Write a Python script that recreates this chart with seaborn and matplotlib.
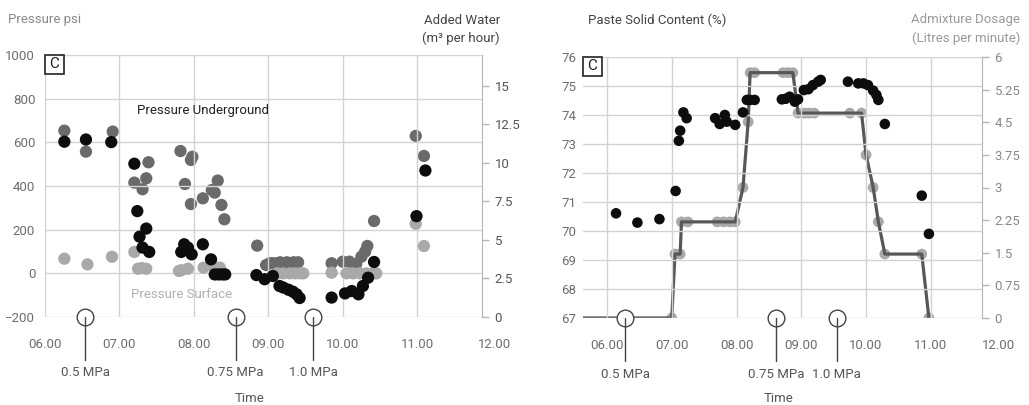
import numpy as np
import pandas as pd
import matplotlib
matplotlib.use('Agg')
import matplotlib.pyplot as plt
import matplotlib.transforms as mtrans
from matplotlib.patches import Rectangle
import seaborn as sns

# ---- left chart: pressure and added water ----
under_time = [6.26, 6.55, 6.89, 7.20, 7.24, 7.36, 7.27, 7.31, 7.40, 7.83, 7.87, 7.92, 7.97, 8.12,
              8.23, 8.28, 8.33, 8.38, 8.42, 8.84, 8.95, 9.06, 9.15, 9.20, 9.27, 9.33, 9.38, 9.42,
              9.85, 10.03, 10.12, 10.21, 10.27, 10.34, 10.42, 10.99, 11.11]
under_psi = [603, 613, 601, 502, 285, 205, 168, 118, 98, 98, 133, 118, 87, 133,
             64, -5, -5, -5, -5, -8, -27, -12, -58, -65, -75, -84, -96, -113,
             -111, -92, -81, -96, -58, -20, 52, 262, 471]

water_time = [6.26, 6.55, 6.91, 7.20, 7.31, 7.36, 7.39, 7.82, 7.88, 7.96, 7.96, 7.98, 8.12, 8.24,
              8.28, 8.32, 8.37, 8.41, 8.85, 8.97, 9.02, 9.06, 9.11, 9.16, 9.20, 9.25, 9.29, 9.34,
              9.40, 9.85, 10.00, 10.09, 10.18, 10.25, 10.30, 10.33, 10.42, 10.98, 11.09]
water_m3 = [12.09, 10.73, 12.03, 8.72, 8.29, 9.00, 10.04, 10.77, 8.63, 10.19, 7.33, 10.40, 7.70, 8.24,
            8.07, 8.85, 7.27, 6.34, 4.63, 3.37, 3.49, 3.49, 3.49, 3.55, 3.49, 3.55, 3.49, 3.55,
            3.55, 3.49, 3.59, 3.59, 3.44, 3.91, 4.24, 4.61, 6.23, 11.75, 10.45]

surf_time = [6.26, 6.57, 6.90, 7.20, 7.25, 7.30, 7.36, 7.80, 7.83, 7.92, 8.13, 8.26, 8.35,
             9.12, 9.20, 9.29, 9.36, 9.42, 9.47, 9.85, 10.05, 10.14, 10.23, 10.32, 10.41, 10.45,
             10.98, 11.09]
surf_psi = [67, 41, 76, 98, 21, 24, 21, 11, 14, 21, 26, 33, 26,
            0, 0, 0, 0, 0, 0, 3, 0, 0, 0, 0, 0, 0,
            227, 125]

left_mpa_time = [6.54, 8.56, 9.60]
left_mpa_text = ['0.5 MPa', '0.75 MPa', '1.0 MPa']

# ---- right chart: paste solid content and admixture ----
solid_time = [6.14, 6.47, 6.81, 7.06, 7.11, 7.13, 7.18, 7.23, 7.67, 7.74, 7.82, 7.85, 7.98, 8.10,
              8.16, 8.21, 8.28, 8.70, 8.76, 8.82, 8.90, 8.95, 9.04, 9.11, 9.18, 9.26, 9.30,
              9.72, 9.88, 9.96, 10.03, 10.11, 10.16, 10.19, 10.29, 10.86, 10.97]
solid_pct = [70.61, 70.29, 70.41, 71.38, 73.11, 73.46, 74.09, 73.89, 73.89, 73.69, 74.0, 73.77, 73.66, 74.09,
             74.52, 74.52, 74.52, 74.54, 74.56, 74.63, 74.46, 74.54, 74.86, 74.89, 75.03, 75.15, 75.21,
             75.15, 75.09, 75.09, 75.03, 74.84, 74.69, 74.52, 73.69, 71.22, 69.90]

adm_time = [5.63, 7.00, 7.05, 7.13, 7.15, 7.25, 7.70, 7.80, 7.90, 7.98, 8.10, 8.18, 8.21, 8.28,
            8.72, 8.80, 8.87, 8.95, 9.05, 9.12, 9.20, 9.75, 9.93, 10.00, 10.11, 10.19, 10.29,
            10.86, 10.97]
adm_lpm = [0, 0, 1.47, 1.47, 2.21, 2.21, 2.21, 2.21, 2.21, 2.21, 3.0, 4.51, 5.64, 5.64,
           5.64, 5.64, 5.64, 4.71, 4.71, 4.71, 4.71, 4.71, 4.71, 3.75, 3.0, 2.21, 1.47,
           1.47, 0]

right_mpa_time = [6.28, 8.61, 9.55]
right_mpa_text = ['0.5 MPa', '0.75 MPa', '1.0 MPa']

hour_ticks = [6, 7, 8, 9, 10, 11]
hour_labels = ['06.00', '07.00', '08.00', '09.00', '10.00', '11.00']

sns.set_style('white')
plt.rcParams['font.family'] = ['Roboto', 'DejaVu Sans']
plt.rcParams['font.size'] = 9.5

W, H = 1029, 405
fig = plt.figure(figsize=(W / 100, H / 100), dpi=100)

def px(x0, y0, x1, y1):
    return [x0 / W, 1 - y1 / H, (x1 - x0) / W, (y1 - y0) / H]

BLACK = '#0d0d0d'
DARK = '#6a6a6a'
LIGHT = '#a9a9a9'
GRID = '#d2d2d2'
TICK = '#6e6e6e'


def style_axes(ax, twin, xlim, wpx, hpx):
    ax.set_xlim(*xlim)
    ax.set_xticks(hour_ticks)
    ax.set_xticklabels(hour_labels, color=TICK)
    ax.grid(True, color=GRID, lw=1)
    ax.tick_params(axis='x', length=0, pad=15)
    ax.tick_params(axis='y', length=0, pad=7, colors=TICK)
    for s in ax.spines.values():
        s.set_visible(False)
    for s in ['left', 'top', 'bottom']:
        twin.spines[s].set_visible(False)
    twin.spines['right'].set_color('#b5b5b5')
    twin.tick_params(axis='y', length=5, width=1, color='#b5b5b5', pad=4)
    twin.grid(False)
    ax.set_xlabel('')
    ax.set_ylabel('')
    twin.set_ylabel('')
    # 12.00 label beyond the plotting edge
    tr = mtrans.blended_transform_factory(ax.transData, ax.transAxes)
    ax.text(12.04, 0, '12.00', ha='center', va='top', color=TICK, clip_on=False,
            transform=tr + mtrans.ScaledTranslation(0, -15 / 72, fig.dpi_scale_trans))
    # corner box
    bw, bh = 19 / wpx, 19 / hpx
    ax.add_patch(Rectangle((0, 1 - bh), bw, bh, transform=ax.transAxes, fc='white',
                           ec='#222', lw=1.2, zorder=20, clip_on=False))
    ax.text(bw / 2, 1 - bh / 2, 'C', transform=ax.transAxes, ha='center', va='center',
            fontsize=11, color='#222', zorder=21)
    ax.set_zorder(twin.get_zorder() + 1)
    ax.patch.set_visible(False)


def mpa_marks(ax, times, texts, hpx):
    tr = mtrans.blended_transform_factory(ax.transData, ax.transAxes)
    for t, lab in zip(times, texts):
        ax.plot([t], [0], 'o', ms=12, mfc='white', mec='#444', mew=1, transform=tr,
                clip_on=False, zorder=10)
        ax.plot([t, t], [0, -43 / hpx], color='#444', lw=1, transform=tr,
                clip_on=False, zorder=11)
        ax.text(t, -56 / hpx, lab, transform=tr, ha='center', va='center', color='#555',
                fontsize=9.5)


# ---- left chart ----
ax1 = fig.add_axes(px(45, 55, 482, 317))
tw1 = ax1.twinx()
water_df = pd.DataFrame({'time': water_time, 'water': water_m3})
under_df = pd.DataFrame({'time': under_time, 'psi': under_psi})
surf_df = pd.DataFrame({'time': surf_time, 'psi': surf_psi})
sns.scatterplot(data=water_df, x='time', y='water', ax=tw1, color=DARK, s=78,
                edgecolor='none', zorder=3)
sns.scatterplot(data=surf_df, x='time', y='psi', ax=ax1, color=LIGHT, s=78,
                edgecolor='none', zorder=3)
sns.scatterplot(data=under_df, x='time', y='psi', ax=ax1, color=BLACK, s=78,
                edgecolor='none', zorder=4)
ax1.set_ylim(-200, 1000)
ax1.set_yticks([-200, 0, 200, 400, 600, 800, 1000])
tw1.set_ylim(0, 17)
tw1.set_yticks([0, 2.5, 5, 7.5, 10, 12.5, 15])
tw1.set_yticklabels(['0', '2.5', '5', '7.5', '10', '12.5', '15'], color='#555')
style_axes(ax1, tw1, (6, 11.87), 437, 262)
ax1.text(8.12, 746, 'Pressure Underground', ha='center', va='center', color='#222', fontsize=9.5)
ax1.text(7.83, -96, 'Pressure Surface', ha='center', va='center', color='#b0b0b0', fontsize=9.5)
mpa_marks(ax1, left_mpa_time, left_mpa_text, 262)
ax1.text(8.75, -81 / 262, 'Time', transform=mtrans.blended_transform_factory(ax1.transData, ax1.transAxes),
         ha='center', va='center', color='#555', fontsize=9.5)

fig.text(8 / W, 1 - 20 / H, 'Pressure psi', ha='left', va='center', color='#888', fontsize=9.5)
fig.text(500 / W, 1 - 20 / H, 'Added Water', ha='right', va='center', color='#444', fontsize=9.5)
fig.text(500 / W, 1 - 38 / H, '(m³ per hour)', ha='right', va='center', color='#444', fontsize=9.5)

# ---- right chart ----
ax2 = fig.add_axes(px(583, 57, 982, 318))
tw2 = ax2.twinx()
adm_df = pd.DataFrame({'time': adm_time, 'dose': adm_lpm})
solid_df = pd.DataFrame({'time': solid_time, 'solid': solid_pct})
sns.lineplot(data=adm_df, x='time', y='dose', ax=tw2, color='#575757', lw=2.3, sort=False)
sns.scatterplot(data=adm_df.iloc[1:], x='time', y='dose', ax=tw2, color=LIGHT, s=60,
                edgecolor='none', zorder=1)
tw2.lines[0].set_zorder(2)
sns.scatterplot(data=solid_df, x='time', y='solid', ax=ax2, color=BLACK, s=58,
                edgecolor='none', zorder=4)
ax2.set_ylim(67, 76)
ax2.set_yticks(range(67, 77))
tw2.set_ylim(0, 6)
tw2.set_yticks([0, 0.75, 1.5, 2.25, 3, 3.75, 4.5, 5.25, 6])
tw2.set_yticklabels(['0', '0.75', '1.5', '2.25', '3', '3.75', '4.5', '5.25', '6'], color='#888')
style_axes(ax2, tw2, (5.63, 11.79), 399, 261)
ax2.tick_params(axis='y', pad=5)
mpa_marks(ax2, right_mpa_time, right_mpa_text, 261)
ax2.text(8.65, -80 / 261, 'Time', transform=mtrans.blended_transform_factory(ax2.transData, ax2.transAxes),
         ha='center', va='center', color='#555', fontsize=9.5)

fig.text(588 / W, 1 - 20 / H, 'Paste Solid Content (%)', ha='left', va='center', color='#444', fontsize=9.5)
fig.text(1020 / W, 1 - 20 / H, 'Admixture Dosage', ha='right', va='center', color='#999', fontsize=9.5)
fig.text(1020 / W, 1 - 38 / H, '(Litres per minute)', ha='right', va='center', color='#999', fontsize=9.5)

fig.savefig('out.png', dpi=100)
